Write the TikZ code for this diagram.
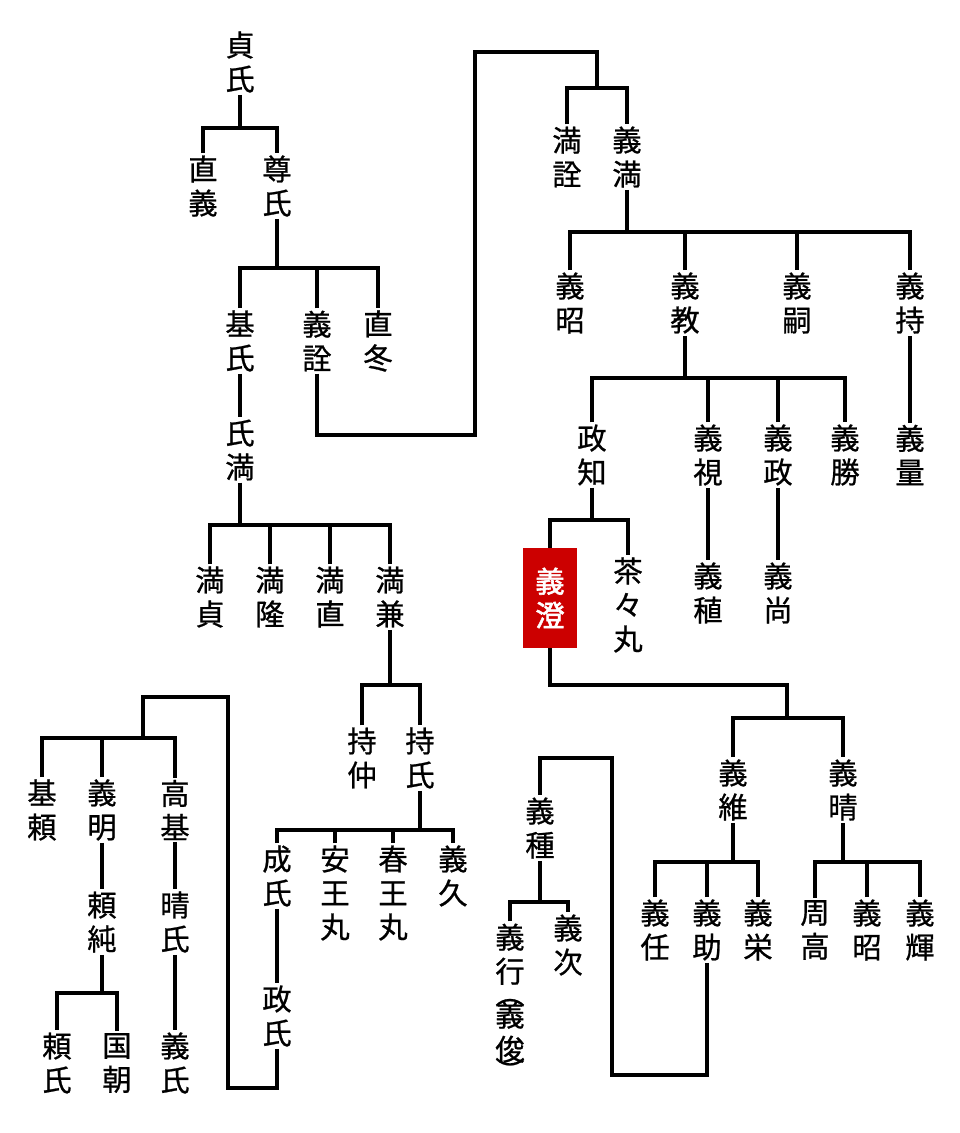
\documentclass[tikz,border=0pt]{standalone}
\usepackage{fontspec}
\setmainfont[AutoFakeBold=2]{Noto Sans CJK JP}
\newfontfamily\jpfont[FakeBold=0.8]{Noto Sans CJK JP}
\usetikzlibrary{positioning}
\tikzset{
  person/.style={align=center,inner sep=1.5pt,font=\fontsize{22}{25.5}\selectfont\jpfont},
  chosen/.style={person,fill=red!80!black,text=white,font=\fontsize{22}{25.5}\selectfont\bfseries,
                 minimum width=40pt,minimum height=75pt},
  line/.style={line width=2.6pt}
}
% fork from parent p at bar height y to children l ... r
\newcommand\fork[4]{%
  \draw[line] (#1.south) -- (#1.south |- 0,#2);
  \draw[line] (#3.north) -- (#3.north |- 0,#2) -- (#4.north |- 0,#2) -- (#4.north);}
\newcommand\drop[2]{\draw[line] (#1.north) -- (#1.north |- 0,#2);}
\begin{document}
\begin{tikzpicture}[x=0.75pt,y=-0.75pt]
  \useasboundingbox (0,0) rectangle (960,1133);

  \node[person] (sadauji)  at (240,62)  {貞\\氏};
  \node[person] (tadayosi) at (203,186) {直\\義};
  \node[person] (takauji)  at (277,186) {尊\\氏};
  \node[person] (motouji)  at (240,341) {基\\氏};
  \node[person] (yosiakira)at (317,341) {義\\詮};
  \node[person] (tadafuyu) at (378,341) {直\\冬};
  \node[person] (ujimitu)  at (240,450) {氏\\満};
  \node[person] (mitusada) at (210,597) {満\\貞};
  \node[person] (mitutaka) at (270,597) {満\\隆};
  \node[person] (mitutada) at (330,597) {満\\直};
  \node[person] (mitukane) at (390,597) {満\\兼};
  \node[person] (motinaka) at (362,758) {持\\仲};
  \node[person] (motiuji)  at (420,758) {持\\氏};
  \node[person] (sigeuji)  at (277,876) {成\\氏};
  \node[person] (yasuo)    at (335,893) {安\\王\\丸};
  \node[person] (haruo)    at (393,893) {春\\王\\丸};
  \node[person] (yosihisa) at (453,876) {義\\久};
  \node[person] (masauji)  at (277,1016){政\\氏};
  \node[person] (motoyori) at (42,810)  {基\\頼};
  \node[person] (yosiaki)  at (102,810) {義\\明};
  \node[person] (takamoto) at (175,810) {高\\基};
  \node[person] (yorizumi) at (102,922) {頼\\純};
  \node[person] (haruuji)  at (175,922) {晴\\氏};
  \node[person] (yoriuji)  at (57,1063) {頼\\氏};
  \node[person] (kunitomo) at (117,1063){国\\朝};
  \node[person] (yosiuji)  at (175,1063){義\\氏};

  \node[person] (mitunori) at (567,157) {満\\詮};
  \node[person] (yosimitu) at (627,157) {義\\満};
  \node[person] (yosiaki2) at (570,303) {義\\昭};
  \node[person] (yosinori) at (685,303) {義\\教};
  \node[person] (yositugu) at (797,303) {義\\嗣};
  \node[person] (yosimoti) at (910,303) {義\\持};
  \node[person] (yosikazu) at (910,455) {義\\量};
  \node[person] (masatomo) at (592,455) {政\\知};
  \node[person] (yosimi)   at (708,455) {義\\視};
  \node[person] (yosimasa) at (778,455) {義\\政};
  \node[person] (yosikatu) at (845,455) {義\\勝};
  \node[person] (yositane) at (708,593) {義\\稙};
  \node[person] (yosihisa2)at (778,593) {義\\尚};
  \node[chosen] (yosizumi) at (550,598) {義\\澄};
  \node[person] (tyatyamaru) at (628,605) {茶\\々\\丸};
  \node[person] (yosituna) at (733,790) {義\\維};
  \node[person] (yosiharu) at (843,790) {義\\晴};
  \node[person] (yositou)  at (655,930) {義\\任};
  \node[person] (yosisuke) at (707,930) {義\\助};
  \node[person] (yosihide) at (758,930) {義\\栄};
  \node[person] (syuukou)  at (815,930) {周\\高};
  \node[person] (yosiaki3) at (867,930) {義\\昭};
  \node[person] (yositeru) at (920,930) {義\\輝};
  \node[person] (yosikusa) at (540,828) {義\\種};
  \node[person] (yosiyuki) at (510,1003){義\\行\\[-9pt]︵\\[-9pt]義\\俊\\[-9pt]︶};
  \node[person] (yosituna2)at (568,945) {義\\次};

  % Kamakura line
  \fork{sadauji}{128}{tadayosi}{takauji}
  \fork{takauji}{268}{motouji}{tadafuyu}
  \drop{yosiakira}{268}
  \draw[line] (motouji) -- (ujimitu);
  \fork{ujimitu}{525}{mitusada}{mitukane}
  \drop{mitutaka}{525} \drop{mitutada}{525}
  \fork{mitukane}{685}{motinaka}{motiuji}
  \fork{motiuji}{830}{sigeuji}{yosihisa}
  \drop{yasuo}{830} \drop{haruo}{830}
  \draw[line] (sigeuji) -- (masauji);
  \draw[line] (masauji.south) |- (228,1088) -- (228,697) -| (143,738);
  \draw[line] (motoyori.north) |- (175,738) -- (takamoto.north);
  \drop{yosiaki}{738}
  \draw[line] (yosiaki) -- (yorizumi);
  \fork{yorizumi}{993}{yoriuji}{kunitomo}
  \draw[line] (takamoto) -- (haruuji) -- (yosiuji);

  % shogun line
  \draw[line] (yosiakira.south) |- (475,435) -- (475,52) -| (597,88);
  \draw[line] (mitunori.north) |- (627,88) -- (yosimitu.north);
  \fork{yosimitu}{232}{yosiaki2}{yosimoti}
  \drop{yosinori}{232} \drop{yositugu}{232}
  \draw[line] (yosimoti) -- (yosikazu);
  \fork{yosinori}{378}{masatomo}{yosikatu}
  \drop{yosimi}{378} \drop{yosimasa}{378}
  \draw[line] (yosimi) -- (yositane);
  \draw[line] (yosimasa) -- (yosihisa2);
  \fork{masatomo}{520}{yosizumi}{tyatyamaru}
  \draw[line] (yosizumi.south) |- (787,685) -- (787,718);
  \draw[line] (yosituna.north) |- (843,718) -- (yosiharu.north);
  \fork{yosituna}{862}{yositou}{yosihide}
  \drop{yosisuke}{862}
  \fork{yosiharu}{862}{syuukou}{yositeru}
  \drop{yosiaki3}{862}
  \draw[line] (yosisuke.south) |- (612,1075) -- (612,758) -| (yosikusa.north);
  \fork{yosikusa}{902}{yosiyuki}{yosituna2}
\end{tikzpicture}
\end{document}
